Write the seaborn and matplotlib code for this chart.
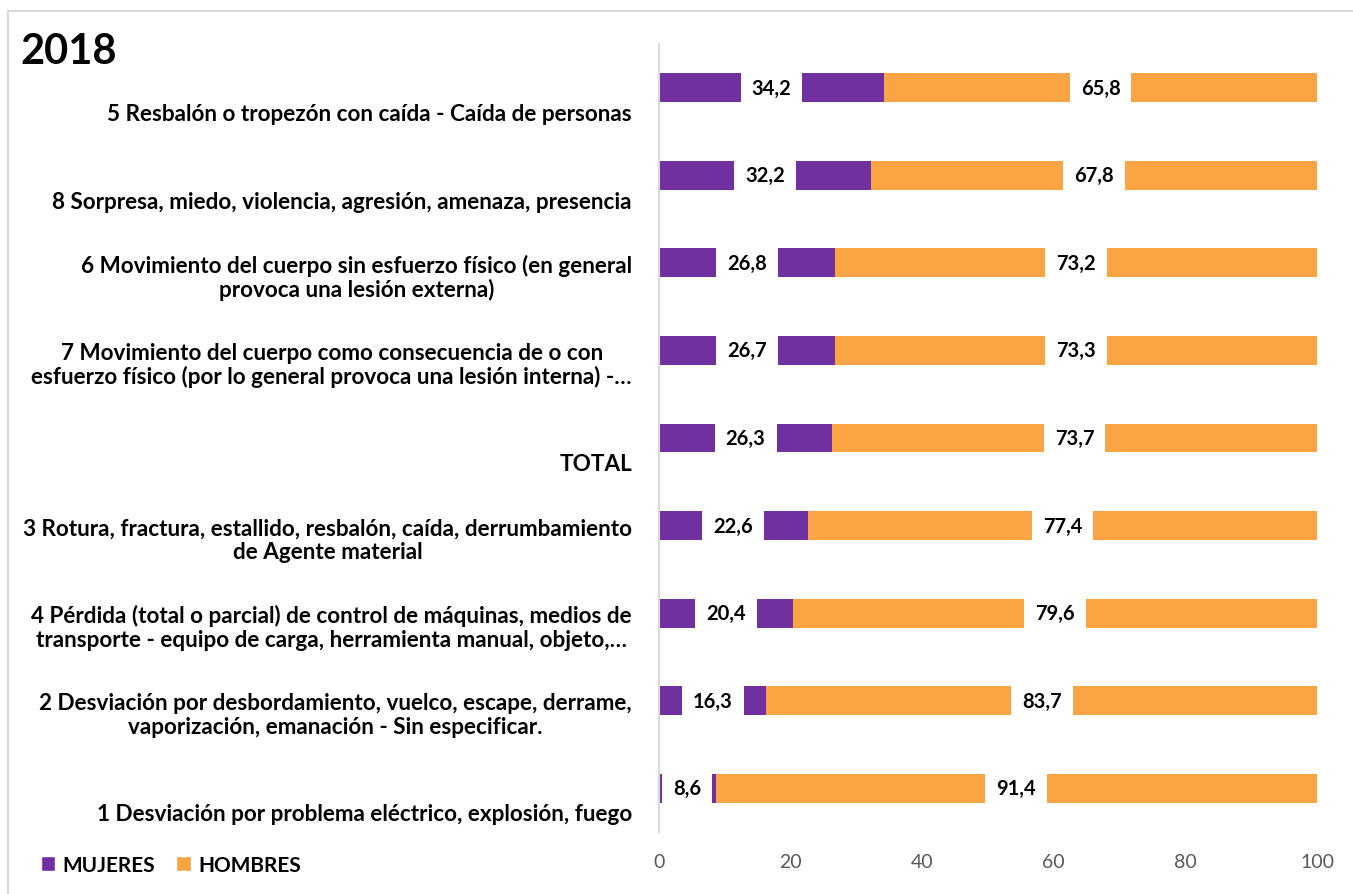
import matplotlib
matplotlib.use("Agg")
import matplotlib.pyplot as plt
import matplotlib.transforms as mtransforms
from matplotlib.patches import Patch, Rectangle
import seaborn as sns
import pandas as pd

categories = [
    "5 Resbalón o tropezón con caída - Caída de personas",
    "8 Sorpresa, miedo, violencia, agresión, amenaza, presencia",
    "6 Movimiento del cuerpo sin esfuerzo físico (en general\nprovoca una lesión externa)",
    "7 Movimiento del cuerpo como consecuencia de o con\nesfuerzo físico (por lo general provoca una lesión interna) -…",
    "TOTAL",
    "3 Rotura, fractura, estallido, resbalón, caída, derrumbamiento\nde Agente material",
    "4 Pérdida (total o parcial) de control de máquinas, medios de\ntransporte - equipo de carga, herramienta manual, objeto,…",
    "2 Desviación por desbordamiento, vuelco, escape, derrame,\nvaporización, emanación - Sin especificar.",
    "1 Desviación por problema eléctrico, explosión, fuego",
]
mujeres = [34.2, 32.2, 26.8, 26.7, 26.3, 22.6, 20.4, 16.3, 8.6]
hombres = [65.8, 67.8, 73.2, 73.3, 73.7, 77.4, 79.6, 83.7, 91.4]
x_ticks = [0, 20, 40, 60, 80, 100]
title = "2018"

PURPLE = "#7030A0"
ORANGE = "#FAA443"

sns.set_theme(style="white")
plt.rcParams["font.family"] = ["Lato", "DejaVu Sans"]
plt.rcParams["text.color"] = "black"

df = pd.DataFrame({"cat": categories, "MUJERES": mujeres, "HOMBRES": hombres})
df["TOT"] = df["MUJERES"] + df["HOMBRES"]

fig = plt.figure(figsize=(13.53, 8.95), dpi=100)
ax = fig.add_axes([659/1353, 1-833/895, (1317-659)/1353, (833-45)/895])

sns.barplot(data=df, y="cat", x="TOT", color=ORANGE, orient="h", width=0.33,
            saturation=1, ax=ax, linewidth=0)
sns.barplot(data=df, y="cat", x="MUJERES", color=PURPLE, orient="h", width=0.33,
            saturation=1, ax=ax, linewidth=0)

ax.set_xlim(0, 100)
ax.set_ylim(len(categories) - 0.5, -0.5)
ax.set_xticks(x_ticks)
ax.set_xticklabels([str(v) for v in x_ticks])
ax.set_xlabel("")
ax.set_ylabel("")
ax.set_yticks([])

for s in ["top", "right", "bottom"]:
    ax.spines[s].set_visible(False)
ax.spines["left"].set_color("#D9D9D9")
ax.spines["left"].set_linewidth(1.5)

ax.tick_params(axis="x", length=0, pad=15, labelsize=14, labelcolor="#595959")

# category labels: Excel-style placement (single lines sit one line below bar)
trans = mtransforms.blended_transform_factory(ax.transAxes, ax.transData)
offset = mtransforms.ScaledTranslation(-27/100, -14/100, fig.dpi_scale_trans)
for i, c in enumerate(categories):
    lab = c if "\n" in c else "\n" + c
    ax.text(0, i, lab, transform=trans + offset, ha="right", va="center",
            multialignment="center", fontsize=16.2, fontweight="bold",
            color="black", linespacing=1.15)

box = dict(boxstyle="square,pad=0.55", fc="white", ec="none")
for i, (m, h) in enumerate(zip(mujeres, hombres)):
    ax.text(m/2, i, f"{m:.1f}".replace(".", ","), ha="center", va="center",
            fontsize=14.5, fontweight="bold", color="black", bbox=box)
    ax.text(m + h/2, i, f"{h:.1f}".replace(".", ","), ha="center", va="center",
            fontsize=14.5, fontweight="bold", color="black", bbox=box)

fig.text(20/1353, 1-52/895, title, fontsize=30, fontweight="bold", va="center",
         ha="left", color="black")

handles = [Patch(facecolor=PURPLE, label="MUJERES"), Patch(facecolor=ORANGE, label="HOMBRES")]
leg = fig.legend(handles=handles, loc="center left", bbox_to_anchor=(22/1353, 1-866/895),
                 ncol=2, frameon=False, fontsize=15,
                 handlelength=0.7, handleheight=0.7, handletextpad=0.35, columnspacing=1.0)
for t in leg.get_texts():
    t.set_fontweight("bold")
    t.set_color("black")

fig.patches.append(Rectangle((8/1353, -0.1), 1.2, 1 - 12/895 + 0.1, transform=fig.transFigure,
                             fill=False, ec="#D9D9D9", lw=1.5, zorder=-1))

fig.savefig("out.png", dpi=100, facecolor="white")
